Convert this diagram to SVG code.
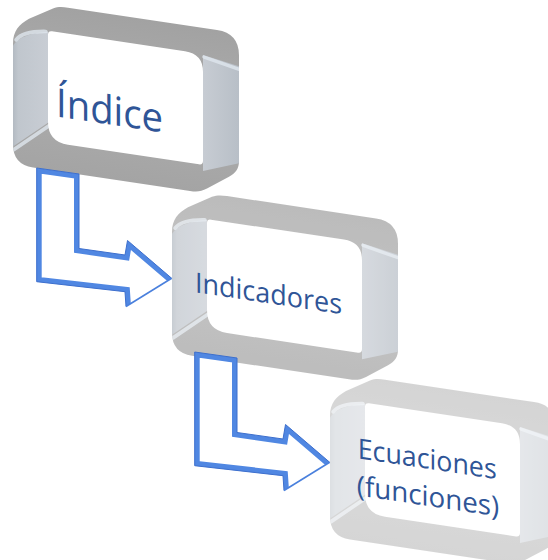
<svg xmlns="http://www.w3.org/2000/svg" width="548" height="560" viewBox="0 0 548 560">
<style>
.face{fill:url(#gFace)}
.lwall{fill:url(#gLW)}
.rwall{fill:url(#gRW)}
.hole{fill:#ffffff}
.hl{fill:none;stroke:#dfe6ee;stroke-width:3.5;stroke-linecap:round;opacity:0.8}
.lbl{font-family:"Open Sans","Noto Sans","Liberation Sans",sans-serif;fill:#2f5597}
.band{fill:none;stroke:#5087e2;stroke-width:10;stroke-linejoin:miter}
.edge{fill:none;stroke:#3d6fcd;stroke-width:1}
.thin{fill:none;stroke:#4a80dd;stroke-width:1.6}
</style>
<defs>
<linearGradient id="gFace" x1="0" y1="0" x2="0" y2="1">
<stop offset="0" stop-color="#a2a2a2"/>
<stop offset="0.5" stop-color="#adadad"/>
<stop offset="1" stop-color="#a4a4a4"/>
</linearGradient>
<linearGradient id="gLW" x1="0" y1="0" x2="1" y2="0">
<stop offset="0" stop-color="#b3bac2"/>
<stop offset="0.15" stop-color="#c0c6cd"/>
<stop offset="1" stop-color="#c8cdd4"/>
</linearGradient>
<linearGradient id="gRW" x1="0" y1="0" x2="1" y2="0">
<stop offset="0" stop-color="#c7ccd3"/>
<stop offset="1" stop-color="#b8bfc7"/>
</linearGradient>
<path id="outer" d="M0,44 C0,32 6,24 16,17 L40,3 C45,0.5 49,0 55,0 L204,0 Q226,0 226,22 L226,128 C226,135 223,140 216,145 L194,160 C188,164 184,165 177,165 L20,165 Q0,165 0,145 Z"/>
<clipPath id="cOuter"><use href="#outer"/></clipPath>
<g id="frame">
<use href="#outer" class="face"/>
<g clip-path="url(#cOuter)">
<path class="lwall" d="M0,46 C6,36 20,30 35,27 L35,118 L0,147 Z"/>
<path class="rwall" d="M190,27 L226,33 L226,130 L190,143 Z"/>
<path class="hl" d="M1,150 L36,121"/>
<path class="hl" d="M191,29 L226,36"/>
<path class="hl" d="M3,40 C8,33 18,29 33,27" stroke-width="2" opacity="0.5"/>
</g>
<path class="hole" d="M35,30 Q35,26 39,26 L172,26 Q190,26 190,44 L190,133 Q190,137 186,137 L55,137 Q35,137 35,117 Z"/>
</g>
<polygon id="arrowShape" points="36.7,168 79,174 79,248.5 125,255 127.5,240.5 171.7,278.3 126,306.5 125,291.7 36.7,281.7"/>
<clipPath id="cArrow"><use href="#arrowShape"/></clipPath>
<g id="arrow">
<path class="band" clip-path="url(#cArrow)" d="M126,306.5 L125,291.7 L36.7,281.7 L36.7,168 L79,174 L79,248.5 L125,255 L127.5,240.5 L171.7,278.3"/>
<path class="edge" d="M126,306.5 L125,291.7 L36.7,281.7 L36.7,168 L79,174 L79,248.5 L125,255 L127.5,240.5 L171.7,278.3"/>
<path class="thin" d="M171.7,278.3 L126,306.5"/>
</g>
</defs>
<g id="node1" transform="skewY(8.53) translate(13,-2.5)">
<use href="#frame"/>
<text class="lbl" x="43" y="110.5" font-size="40" textLength="107" lengthAdjust="spacingAndGlyphs">Índice</text>
</g>
<g id="node2" transform="skewY(8.53) translate(172,162)">
<use href="#frame" opacity="0.72"/>
<text class="lbl" x="23" y="101" font-size="28" textLength="147" lengthAdjust="spacingAndGlyphs">Indicadores</text>
</g>
<g id="node3" transform="skewY(8.53) translate(330,322)">
<use href="#frame" opacity="0.45"/>
<text class="lbl" x="27.7" y="82.6" font-size="28" textLength="139" lengthAdjust="spacingAndGlyphs">Ecuaciones</text>
<text class="lbl" x="26.7" y="119.7" font-size="28" textLength="142.6" lengthAdjust="spacingAndGlyphs">(funciones)</text>
</g>
<g id="connectors">
<use href="#arrow"/>
<use href="#arrow" transform="translate(158,184)"/>
</g>
</svg>
